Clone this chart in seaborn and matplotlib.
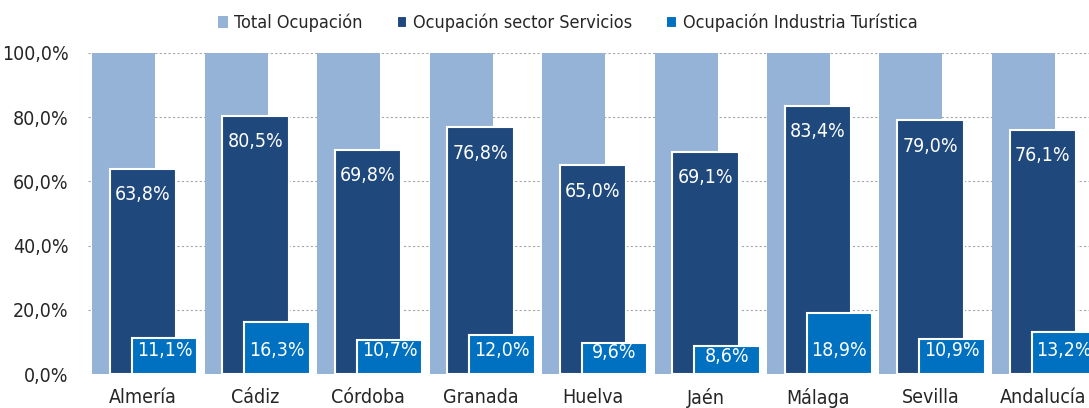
import numpy as np
import pandas as pd
import matplotlib
matplotlib.use('Agg')
import matplotlib.pyplot as plt
from matplotlib.ticker import FuncFormatter
import seaborn as sns

# data
provincias = ['Almería', 'Cádiz', 'Córdoba', 'Granada', 'Huelva',
              'Jaén', 'Málaga', 'Sevilla', 'Andalucía']
total = [100.0] * 9
servicios = [63.8, 80.5, 69.8, 76.8, 65.0, 69.1, 83.4, 79.0, 76.1]
turistica = [11.1, 16.3, 10.7, 12.0, 9.6, 8.6, 18.9, 10.9, 13.2]

series = ['Total Ocupación', 'Ocupación sector Servicios',
          'Ocupación Industria Turística']
colores = ['#95B3D7', '#1F497D', '#0070C0']


def pct(v):
    return f'{v:.1f}'.replace('.', ',') + '%'


def main():
    sns.set_theme(style='white')
    plt.rcParams['font.family'] = ['DejaVu Sans']
    plt.rcParams['font.stretch'] = 'condensed'

    fig = plt.figure(figsize=(10.89, 4.08), dpi=100)
    ax = fig.add_axes([88 / 1089, 34 / 408, 1 - 88 / 1089, 321 / 408])

    idx = np.arange(len(provincias))
    df = pd.DataFrame({'pos': idx, 'prov': provincias, 'total': total,
                       'serv': servicios, 'tur': turistica})

    # (column, center offset, width, edge)
    capas = [('total', -0.173, 0.56, 'none'),
             ('serv', 0.0, 0.59, 'white'),
             ('tur', 0.191, 0.58, 'white')]
    for (col, off, w, ec), c, name in zip(capas, colores, series):
        sns.barplot(x=df['pos'] + off, y=df[col], native_scale=True,
                    width=w, color=c, edgecolor=ec, linewidth=1.5,
                    saturation=1, label=name, ax=ax)
    for p in ax.patches:
        p.set_zorder(2)

    # value labels
    for i in idx:
        ax.text(i, servicios[i] - 8, pct(servicios[i]), ha='center',
                va='center', color='white', fontsize=14, zorder=5)
        ax.text(i + 0.191, min(7.2, turistica[i] - 3), pct(turistica[i]),
                ha='center', va='center', color='white', fontsize=14,
                zorder=5)

    ax.set_xlim(-0.49, 8.41)
    ax.set_ylim(0, 100)
    ax.set_xticks(idx)
    ax.set_xticklabels(provincias, fontsize=14)
    ax.set_yticks(np.arange(0, 101, 20))
    ax.yaxis.set_major_formatter(FuncFormatter(lambda v, p: pct(v)))
    ax.tick_params(axis='y', labelsize=14, pad=14, length=0)
    ax.tick_params(axis='x', pad=10, length=0)
    ax.set_xlabel('')
    ax.set_ylabel('')
    ax.grid(axis='y', color='#A6A6A6', linestyle=(0, (2, 2)),
            linewidth=0.8, zorder=0)
    ax.set_axisbelow(True)
    for s in ax.spines.values():
        s.set_visible(False)

    ax.legend(loc='lower center', bbox_to_anchor=(0.479, 1.014),
              ncol=3, frameon=False, fontsize=13, handlelength=0.6,
              handleheight=0.6, handletextpad=0.3, columnspacing=1.9)

    fig.savefig('out.png', dpi=100)


if __name__ == '__main__':
    main()
